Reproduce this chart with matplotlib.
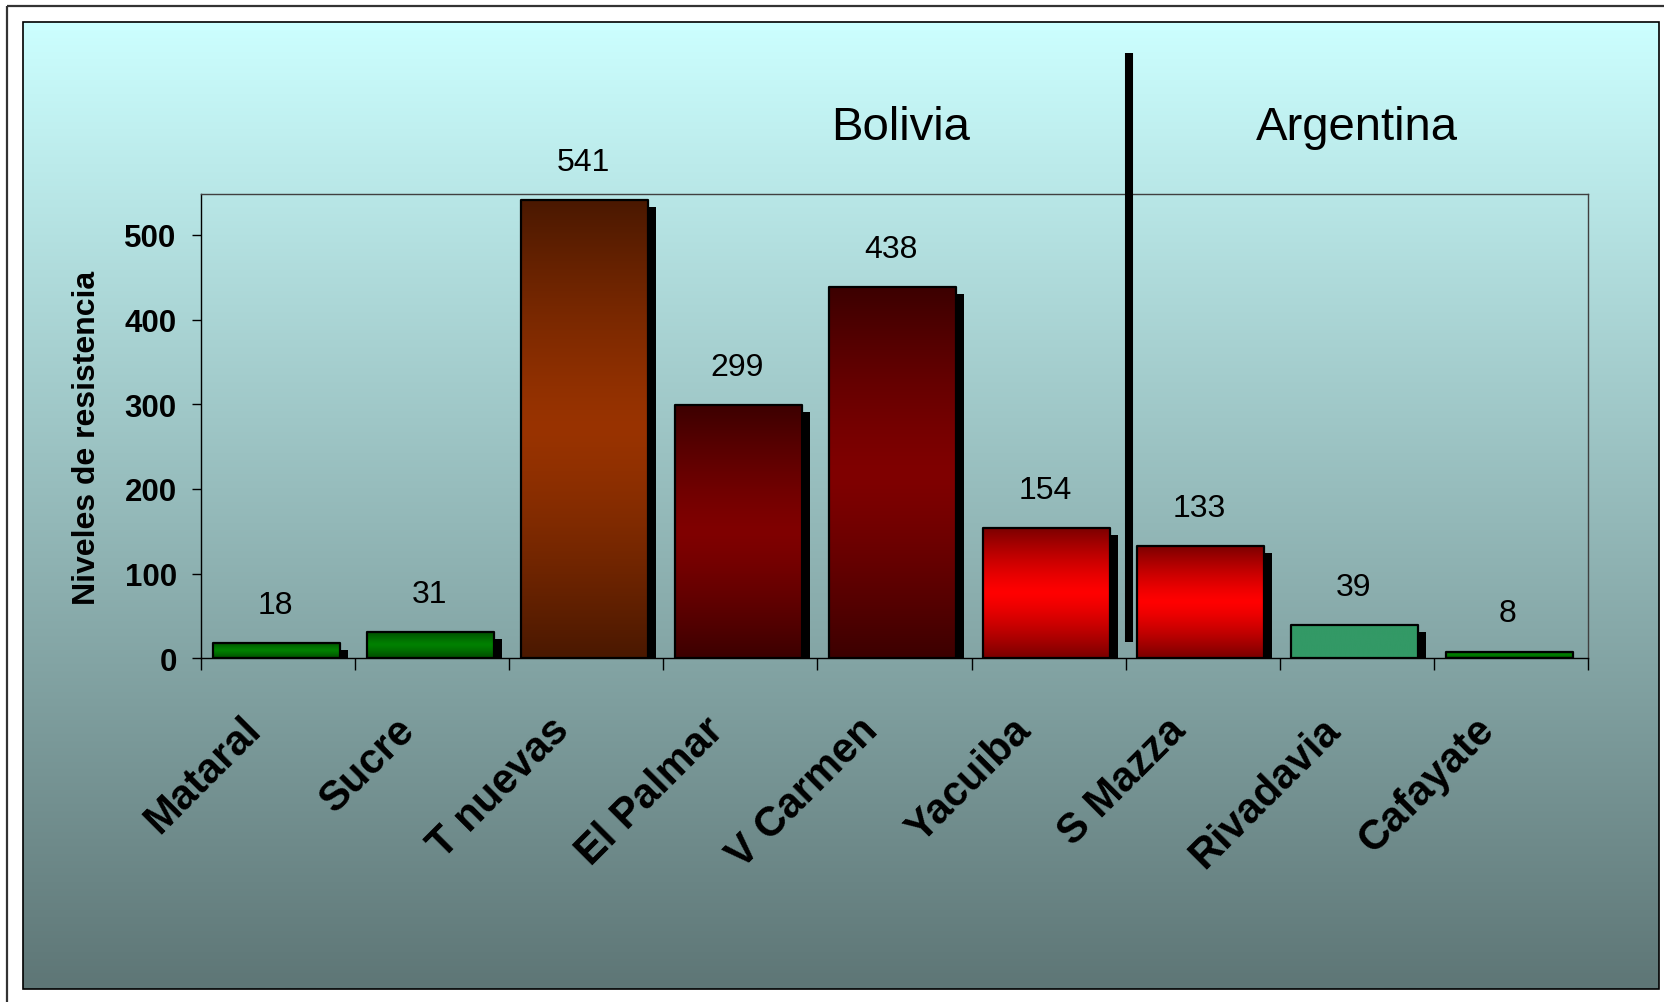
import numpy as np
import matplotlib
matplotlib.use("Agg")
import matplotlib.pyplot as plt
from matplotlib.colors import to_rgb
from matplotlib.patches import Rectangle

plt.rcParams['font.family'] = ['Liberation Sans', 'DejaVu Sans']

# resistance levels per locality
sitios = ["Mataral", "Sucre", "T nuevas", "El Palmar", "V Carmen",
          "Yacuiba", "S Mazza", "Rivadavia", "Cafayate"]
niveles = [18, 31, 541, 299, 438, 154, 133, 39, 8]
ticks_y = [0, 100, 200, 300, 400, 500]
paises = ["Bolivia", "Argentina"]

# (outer shade, middle shade) for each bar's vertical gradient
VERDE = ("#004a00", "#008000")
CAFE = ("#4a1800", "#993300")
GRANATE = ("#3c0000", "#800000")
ROJO = ("#7a0000", "#ff0000")
MAR = ("#339966", "#339966")
rellenos = [VERDE, VERDE, CAFE, GRANATE, GRANATE, ROJO, ROJO, MAR, VERDE]

W, H, DPI = 1664, 1003, 100
fig = plt.figure(figsize=(W / DPI, H / DPI), dpi=DPI)
fig.patch.set_facecolor("white")

# background panel in pixel coordinates
bg = fig.add_axes([0, 0, 1, 1], zorder=0)
bg.set_xlim(0, W)
bg.set_ylim(H, 0)
bg.axis("off")
top_c = np.array(to_rgb("#ccffff"))
bot_c = np.array(to_rgb("#5e7676"))
t = np.linspace(0, 1, 256)[:, None, None]
grad_bg = top_c * (1 - t) + bot_c * t
bg.imshow(grad_bg, extent=(23, 1659, 990, 23), aspect="auto", interpolation="bilinear")
bg.add_patch(Rectangle((23, 23), 1636, 967, fill=False, edgecolor="black", lw=1.2))
bg.add_patch(Rectangle((7, 7), 1700, 1100, fill=False, edgecolor="#333333", lw=1.6))

ax = fig.add_axes([201 / W, 1 - 659.3 / H, (1588 - 201) / W, (659.3 - 195) / H], zorder=1)
ax.patch.set_alpha(0)

px_x = 1 / 154.1            # one pixel in category units
px_y = 548.4 / 464.3        # one pixel in value units
ancho = 127 * px_x
sx, sy = 8 * px_x, 7 * px_y


def gradiente(borde, centro, n=200):
    e, c = np.array(to_rgb(borde)), np.array(to_rgb(centro))
    s = np.abs(np.linspace(-1, 1, n))[:, None, None] ** 1.3
    return c * (1 - s) + e * s


for i, (v, (borde, centro)) in enumerate(zip(niveles, rellenos)):
    x0 = i - 0.012 - ancho / 2
    if v - sy > 0:
        ax.add_patch(Rectangle((x0 + sx, 0), ancho, v - sy, facecolor="black",
                               edgecolor="none", zorder=2))
    caja = Rectangle((x0, 0), ancho, v, facecolor="none", edgecolor="black",
                     lw=1.6, zorder=4, joinstyle="round")
    ax.add_patch(caja)
    im = ax.imshow(gradiente(borde, centro), extent=(x0, x0 + ancho, 0, v),
                   aspect="auto", zorder=3, interpolation="bilinear")
    im.set_clip_path(caja)
    ax.text(i - 0.02, v + 45, str(v), ha="center", va="center", fontsize=23, zorder=5)

ax.set_xlim(-0.5, len(sitios) - 0.5)
ax.set_ylim(0, 548.4)

for s in ax.spines.values():
    s.set_color("#404040")
    s.set_linewidth(1.0)
ax.spines["bottom"].set_color("black")
ax.spines["left"].set_color("black")

ax.set_yticks(ticks_y)
ax.set_yticklabels([str(v) for v in ticks_y], fontsize=22.5, fontweight="bold")
ax.tick_params(axis="y", direction="out", length=6.5, width=1, pad=11)

ax.set_xticks(np.arange(len(sitios)))
ax.set_xticklabels([])
ax.tick_params(axis="x", which="major", length=0)
ax.set_xticks(np.arange(len(sitios) + 1) - 0.5, minor=True)
ax.tick_params(axis="x", which="minor", direction="out", length=8.5, width=1)

for i, nombre in enumerate(sitios):
    ax.text(i - 0.15, -0.14, nombre, transform=ax.get_xaxis_transform(),
            rotation=45, rotation_mode="anchor", ha="right", va="center",
            fontsize=30, fontweight="bold", clip_on=False)

fig.text(87 / W, 1 - 438 / H, "Niveles de resistencia", rotation=90,
         ha="center", va="center", fontsize=23, fontweight="bold")

# divider between countries
ax.plot([5.52, 5.52], [19, 715], color="black", lw=5.8,
        solid_capstyle="butt", clip_on=False, zorder=6)
ax.text(4.04, 627, paises[0], ha="center", va="center", fontsize=34, clip_on=False)
ax.text(7.0, 627, paises[1], ha="center", va="center", fontsize=34, clip_on=False)

fig.savefig("out.png", dpi=DPI)
